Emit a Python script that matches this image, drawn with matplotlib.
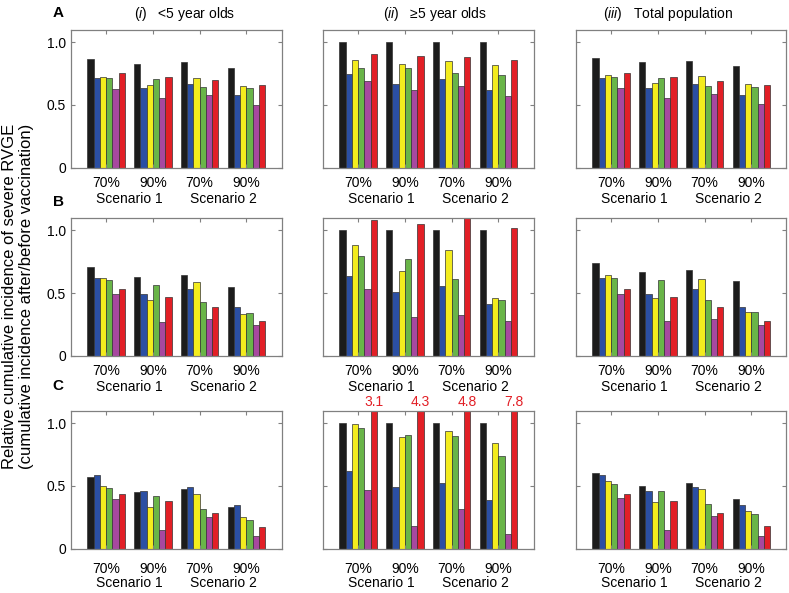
import numpy as np
import matplotlib.pyplot as plt
import matplotlib.transforms as mtransforms

plt.rcParams['font.family'] = ['Liberation Sans', 'DejaVu Sans']
plt.rcParams['font.size'] = 10
plt.rcParams['mathtext.fontset'] = 'custom'
plt.rcParams['mathtext.it'] = 'Liberation Sans:italic'
plt.rcParams['mathtext.rm'] = 'Liberation Sans'

# Category labels
coverage = ['70%', '90%', '70%', '90%']
scenarios = ['Scenario 1', 'Scenario 2']
titles = ['<5 year olds', '≥5 year olds', 'Total population']
roman = ['i', 'ii', 'iii']
row_letters = ['A', 'B', 'C']

# Series colours: black, blue, yellow, green, magenta, red
bar_colors = ['#1c1c1c', '#2b4fa3', '#f3ec1e', '#69b548', '#a7489f', '#e21f26']

# Relative cumulative incidence, one inner list per coverage group (6 bars each)
A_i = [[0.867, 0.712, 0.725, 0.715, 0.629, 0.755],
       [0.829, 0.632, 0.659, 0.707, 0.552, 0.725],
       [0.840, 0.669, 0.715, 0.643, 0.581, 0.696],
       [0.792, 0.579, 0.651, 0.632, 0.501, 0.659]]
A_ii = [[1.0, 0.744, 0.859, 0.795, 0.693, 0.907],
        [1.0, 0.669, 0.824, 0.792, 0.621, 0.888],
        [1.0, 0.707, 0.853, 0.755, 0.648, 0.883],
        [1.0, 0.621, 0.816, 0.741, 0.571, 0.856]]
A_iii = [[0.877, 0.712, 0.739, 0.720, 0.635, 0.752],
         [0.845, 0.632, 0.675, 0.712, 0.557, 0.725],
         [0.853, 0.667, 0.731, 0.651, 0.587, 0.693],
         [0.811, 0.579, 0.664, 0.640, 0.507, 0.656]]
B_i = [[0.707, 0.617, 0.622, 0.604, 0.492, 0.535],
       [0.630, 0.492, 0.444, 0.564, 0.271, 0.468],
       [0.644, 0.537, 0.585, 0.428, 0.293, 0.388],
       [0.553, 0.386, 0.338, 0.343, 0.247, 0.277]]
B_ii = [[1.0, 0.638, 0.883, 0.798, 0.537, 1.085],
        [1.0, 0.513, 0.673, 0.771, 0.309, 1.053],
        [1.0, 0.559, 0.846, 0.612, 0.330, 1.110],
        [1.0, 0.415, 0.460, 0.447, 0.282, 1.019]]
B_iii = [[0.737, 0.620, 0.644, 0.620, 0.497, 0.537],
         [0.665, 0.495, 0.465, 0.601, 0.277, 0.471],
         [0.681, 0.537, 0.609, 0.449, 0.298, 0.391],
         [0.593, 0.388, 0.351, 0.351, 0.250, 0.279]]
C_i = [[0.569, 0.585, 0.500, 0.484, 0.399, 0.436],
       [0.449, 0.460, 0.330, 0.420, 0.149, 0.378],
       [0.476, 0.492, 0.436, 0.319, 0.253, 0.282],
       [0.330, 0.348, 0.253, 0.231, 0.101, 0.176]]
C_ii = [[1.0, 0.617, 0.989, 0.957, 0.468, 3.1],
        [1.0, 0.492, 0.888, 0.902, 0.178, 4.3],
        [1.0, 0.527, 0.941, 0.894, 0.316, 4.8],
        [1.0, 0.388, 0.840, 0.742, 0.114, 7.8]]
C_iii = [[0.606, 0.585, 0.537, 0.519, 0.404, 0.436],
         [0.497, 0.463, 0.372, 0.463, 0.152, 0.383],
         [0.521, 0.495, 0.476, 0.354, 0.258, 0.287],
         [0.394, 0.351, 0.298, 0.274, 0.101, 0.178]]

panels = [[A_i, A_ii, A_iii], [B_i, B_ii, B_iii], [C_i, C_ii, C_iii]]

ymax = 1.1

fig = plt.figure(figsize=(7.89, 5.93), dpi=100)

# axes layout (figure fractions)
lefts = [0.090, 0.4094, 0.730]
width = 0.2668
bottoms = [0.7172, 0.3997, 0.0747]
height = 0.233
xpads = [6, 6, 9.4]
scen_off = [22.3, 22.0, 24.8]
title_x = [0.54, 0.533, 0.436]

n = 6
bw = 0.8 / n
groups = np.arange(1, 5)

for r in range(3):
    for c in range(3):
        ax = fig.add_axes([lefts[c], bottoms[r], width, height])
        vals = np.array(panels[r][c])
        for k in range(n):
            xs = groups + (k - (n - 1) / 2) * bw
            ax.bar(xs, vals[:, k], width=bw, color=bar_colors[k],
                   edgecolor='#333333', linewidth=0.5)
            # values off the scale get a red label above the axes
            for x, v in zip(xs, vals[:, k]):
                if v > 1.5:
                    ax.annotate('%.1f' % v, xy=(x, ymax), xytext=(0, 1.0),
                                textcoords='offset points', ha='center',
                                va='bottom', color='#e21f26', fontsize=10,
                                annotation_clip=False)
        ax.set_xlim(0.25, 4.75)
        ax.set_ylim(0, ymax)
        ax.set_yticks([0, 0.5, 1.0])
        if c == 0:
            ax.set_yticklabels(['0', '0.5', '1.0'])
        else:
            ax.set_yticklabels([])
        ax.set_xticks(groups)
        ax.set_xticklabels(coverage)
        ax.tick_params(direction='in', top=True, right=True, length=3,
                       width=0.8, color='#808080', labelsize=10)
        ax.tick_params(axis='x', pad=xpads[r])
        ax.tick_params(axis='y', pad=3.5)
        for sp in ax.spines.values():
            sp.set_color('#808080')
            sp.set_linewidth(0.9)

        # scenario labels under each pair of groups
        trans = mtransforms.blended_transform_factory(ax.transData, ax.transAxes)
        for s, name in enumerate(scenarios):
            ax.annotate(name, xy=(1.5 + 2 * s, 0), xycoords=trans,
                        xytext=(0, -scen_off[r]), textcoords='offset points',
                        ha='center', va='center', fontsize=10)

        if r == 0:
            ax.text(title_x[c], 1.115,
                    '($\\mathit{%s}$)   %s' % (roman[c], titles[c]),
                    transform=ax.transAxes, ha='center', va='center',
                    fontsize=10)

# row letters
letter_y = [13, 202, 386]
for letter, yp in zip(row_letters, letter_y):
    fig.text(58 / 789, 1 - yp / 593, letter, ha='center', va='center',
             fontsize=11, fontweight='bold')

# y axis label (two lines)
fig.text(10 / 789, 0.5, 'Relative cumulative incidence of severe RVGE',
         rotation=90, ha='center', va='center', fontsize=12)
fig.text(27 / 789, 0.5, '(cumulative incidence after/before vaccination)',
         rotation=90, ha='center', va='center', fontsize=12)

fig.savefig('out.png', dpi=100)
